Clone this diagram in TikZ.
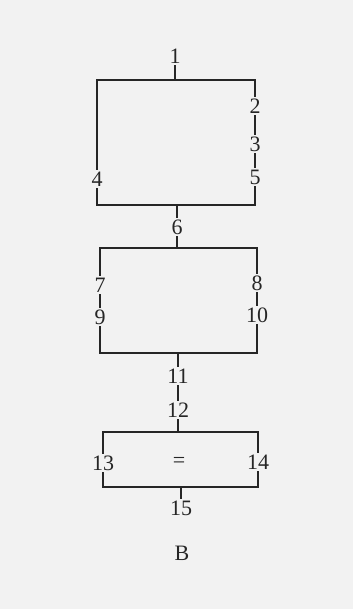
\documentclass[tikz,border=0pt]{standalone}
\usepackage{fontspec}
\setmainfont{Liberation Serif}
\usetikzlibrary{positioning}

\begin{document}
\begin{tikzpicture}[x=1pt, y=-1pt, line width=1.9pt, black!85,
		num/.style={inner sep=1.5pt, font=\fontsize{22}{26}\selectfont}]
				\fill[black!5] (0,0) rectangle (353,609);
				\useasboundingbox (0,0) rectangle (353,609);
				% labels
				\node[num] (n1) at (175,56) {1};
				\node[num] (n2) at (255,106) {2};
				\node[num] (n3) at (255,144) {3};
				\node[num] (n5) at (255,177) {5};
				\node[num] (n4) at (97,179) {4};
				\node[num] (n6) at (177,227) {6};
				\node[num] (n7) at (100,285) {7};
				\node[num] (n9) at (100,317) {9};
				\node[num] (n8) at (257,283) {8};
				\node[num] (n10) at (257,315) {10};
				\node[num] (n11) at (178,376) {11};
				\node[num] (n12) at (178,410) {12};
				\node[num] (n13) at (103,463) {13};
				\node[num] (eq) at (179,462) {=};
				\node[num] (n14) at (258,462) {14};
				\node[num] (n15) at (181,508) {15};
				\node[num] (b) at (182,553) {B};
				% corners
				\coordinate (tl1) at (97,80);  \coordinate (tr1) at (255,80);
				\coordinate (bl1) at (97,205); \coordinate (br1) at (255,205);
				\coordinate (tl2) at (100,248); \coordinate (tr2) at (257,248);
				\coordinate (bl2) at (100,353); \coordinate (br2) at (257,353);
				\coordinate (tl3) at (103,432); \coordinate (tr3) at (258,432);
				\coordinate (bl3) at (103,487); \coordinate (br3) at (258,487);
				\begin{scope}[line cap=rect]
					% first box
					\draw (n4) -- (tl1) -- (tr1) -- (n2);
					\draw (n2) -- (n3);
					\draw (n3) -- (n5);
					\draw (n5) -- (br1) -- (bl1) -- (n4);
					\draw (n1) -- (n1 |- tl1);
					\draw (n6 |- bl1) -- (n6) -- (n6 |- tl2);
					% second box
					\draw (n7) -- (tl2) -- (tr2) -- (n8);
					\draw (n7) -- (n9);
					\draw (n8) -- (n10);
					\draw (n9) -- (bl2) -- (br2) -- (n10);
					\draw (n11 |- bl2) -- (n11);
					\draw (n11) -- (n12) -- (n12 |- tl3);
					% third box
					\draw (n13) -- (tl3) -- (tr3) -- (n14);
					\draw (n13) -- (bl3) -- (br3) -- (n14);
					\draw (n15 |- bl3) -- (n15);
				\end{scope}
			\end{tikzpicture}
\end{document}
